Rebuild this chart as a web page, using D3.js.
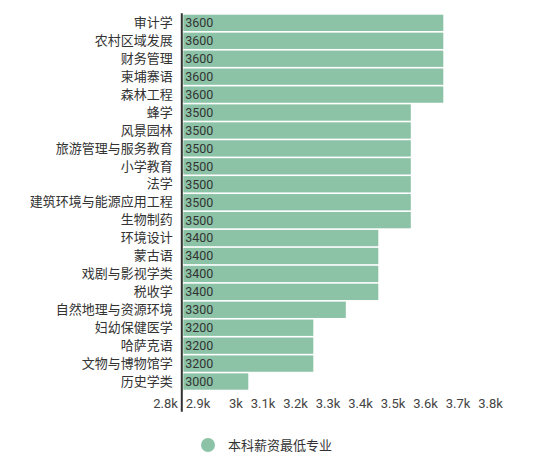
<!DOCTYPE html>
<html>
<head>
<meta charset="utf-8">
<script src="https://cdn.jsdelivr.net/npm/d3@7"></script>
<style>
    body { margin: 0; background: #fff; }
    text { font-family: Roboto, "Noto Sans CJK SC", sans-serif; }
</style>
</head>
<body>
<div id="chart"></div>
<script>
// ------------------------------------------------- Data -------------------------------------------------
const majors = ["审计学", "农村区域发展", "财务管理", "柬埔寨语", "森林工程", "蜂学", "风景园林",
    "旅游管理与服务教育", "小学教育", "法学", "建筑环境与能源应用工程", "生物制药", "环境设计",
    "蒙古语", "戏剧与影视学类", "税收学", "自然地理与资源环境", "妇幼保健医学", "哈萨克语",
    "文物与博物馆学", "历史学类"];
const salaries = [3600, 3600, 3600, 3600, 3600, 3500, 3500, 3500, 3500, 3500, 3500, 3500, 3400,
    3400, 3400, 3400, 3300, 3200, 3200, 3200, 3000];
const tickValues = [2800, 2900, 3000, 3100, 3200, 3300, 3400, 3500, 3600, 3700, 3800];
const tickLabels = ["2.8k", "2.9k", "3k", "3.1k", "3.2k", "3.3k", "3.4k", "3.5k", "3.6k", "3.7k", "3.8k"];
const seriesName = "本科薪资最低专业";

// ------------------------------------------------- Layout -------------------------------------------------
const width = 540, height = 457;
const barColor = "#8cc3a6";

const svg = d3.select("#chart").append("svg")
    .attr("width", width)
    .attr("height", height);

const x = d3.scaleLinear().domain([2800, 3800]).range([183.3, 508.3]);
const y = d3.scaleBand().domain(majors).range([13.9, 390.5])
    .paddingInner(0.09).paddingOuter(0.045);

// bars
svg.append("g").selectAll("rect")
    .data(majors)
    .join("rect")
    .attr("x", x(2800))
    .attr("y", d => y(d))
    .attr("width", (d, i) => x(salaries[i]) - x(2800))
    .attr("height", y.bandwidth())
    .attr("fill", barColor);

// value labels inside bars
svg.append("g").selectAll("text")
    .data(majors)
    .join("text")
    .attr("x", x(2800) + 2)
    .attr("y", d => y(d) + y.bandwidth() / 2)
    .attr("dy", "0.35em")
    .style("font-size", "12.5px")
    .style("fill", "#333")
    .text((d, i) => salaries[i]);

// category axis (left)
const yAxis = svg.append("g")
    .attr("transform", `translate(${x(2800) - 1.5},0)`)
    .call(d3.axisLeft(y).tickSize(0).tickPadding(9));
yAxis.select(".domain").remove();
yAxis.selectAll("text")
    .style("font-size", "13px")
    .style("fill", "#333");

svg.append("line")
    .attr("x1", x(2800) - 1.5).attr("x2", x(2800) - 1.5)
    .attr("y1", 13.3).attr("y2", 411.7)
    .attr("stroke", "#333")
    .attr("stroke-width", 2);

// value axis (bottom) - labels sit right-aligned just left of each tick
const xAxis = svg.append("g")
    .attr("transform", "translate(0,393)")
    .call(d3.axisBottom(x).tickValues(tickValues).tickSize(0).tickPadding(6)
        .tickFormat((d, i) => tickLabels[i]));
xAxis.select(".domain").remove();
xAxis.selectAll("text")
    .attr("text-anchor", "end")
    .attr("x", -6)
    .style("font-size", "13px")
    .style("fill", "#444");

// ------------------------------------------------- Legend -------------------------------------------------
const legend = svg.append("g").attr("transform", "translate(208,445)");
legend.append("circle").attr("r", 7).attr("fill", barColor);
legend.append("text")
    .attr("x", 20)
    .attr("dy", "0.35em")
    .style("font-size", "13px")
    .style("fill", "#333")
    .text(seriesName);
</script>
</body>
</html>
